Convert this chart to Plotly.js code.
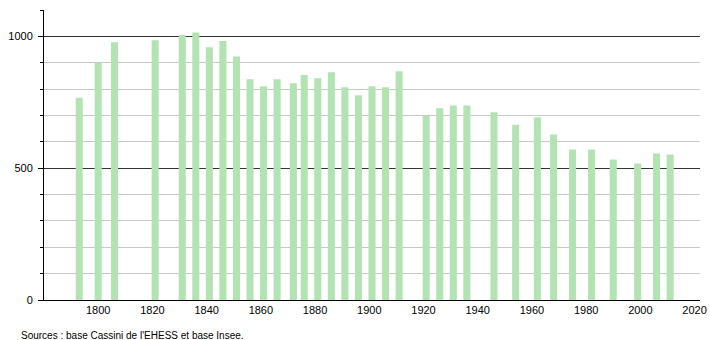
<!DOCTYPE html>
<html>
<head>
<meta charset="utf-8">
<script src="https://cdn.plot.ly/plotly-3.0.1.min.js"></script>
<style>html,body{margin:0;padding:0;background:#fff;}#chart{width:710px;height:340px;}</style>
</head>
<body>
<div id="chart"></div>
<script>
const years = [1793,1800,1806,1821,1831,1836,1841,1846,1851,1856,1861,1866,1872,1876,1881,1886,1891,1896,1901,1906,1911,1921,1926,1931,1936,1946,1954,1962,1968,1975,1982,1990,1999,2006,2011];
const population = [767,900,978,985,1005,1015,959,982,924,837,811,837,822,853,841,864,807,777,811,807,868,699,727,738,738,712,665,693,628,571,571,533,518,556,552];
const xTicks = [1800,1820,1840,1860,1880,1900,1920,1940,1960,1980,2000,2020];
const yLabelled = [0,500,1000];
const sourceText = "Sources : base Cassini de l'EHESS et base Insee.";

const trace = {
  type: 'bar',
  x: years,
  y: population,
  width: 2.6,
  marker: {color: '#b3e3b3', line: {width: 0}},
  hoverinfo: 'x+y'
};

const layout = {
  width: 710, height: 340,
  margin: {l: 44, r: 10, t: 10, b: 40},
  paper_bgcolor: '#fff', plot_bgcolor: '#fff',
  font: {family: 'Liberation Sans, Arial, sans-serif', size: 11, color: '#000'},
  showlegend: false,
  xaxis: {
    range: [1780, 2022],
    tickmode: 'array', tickvals: xTicks, ticktext: xTicks.map(String),
    showgrid: false, zeroline: false,
    showline: true, linecolor: '#000', linewidth: 1,
    ticks: '', tickfont: {size: 11}
  },
  yaxis: {
    range: [0, 1100],
    tickmode: 'array', tickvals: yLabelled, ticktext: yLabelled.map(String),
    showgrid: true, gridcolor: '#333', gridwidth: 1,
    zeroline: false,
    showline: true, linecolor: '#000', linewidth: 1,
    ticks: 'outside', ticklen: 5, tickcolor: '#000',
    ticklabelstandoff: 3,
    tickfont: {size: 11},
    minor: {dtick: 100, showgrid: true, gridcolor: '#c8c8c8', gridwidth: 1, ticks: 'outside', ticklen: 3, tickcolor: '#000'}
  },
  annotations: [{
    text: sourceText, xref: 'paper', yref: 'paper',
    x: -0.038, y: -0.095, xanchor: 'left', yanchor: 'top',
    showarrow: false, font: {size: 10, color: '#000'}
  }]
};

Plotly.newPlot('chart', [trace], layout, {staticPlot: true, displayModeBar: false});
</script>
</body>
</html>
